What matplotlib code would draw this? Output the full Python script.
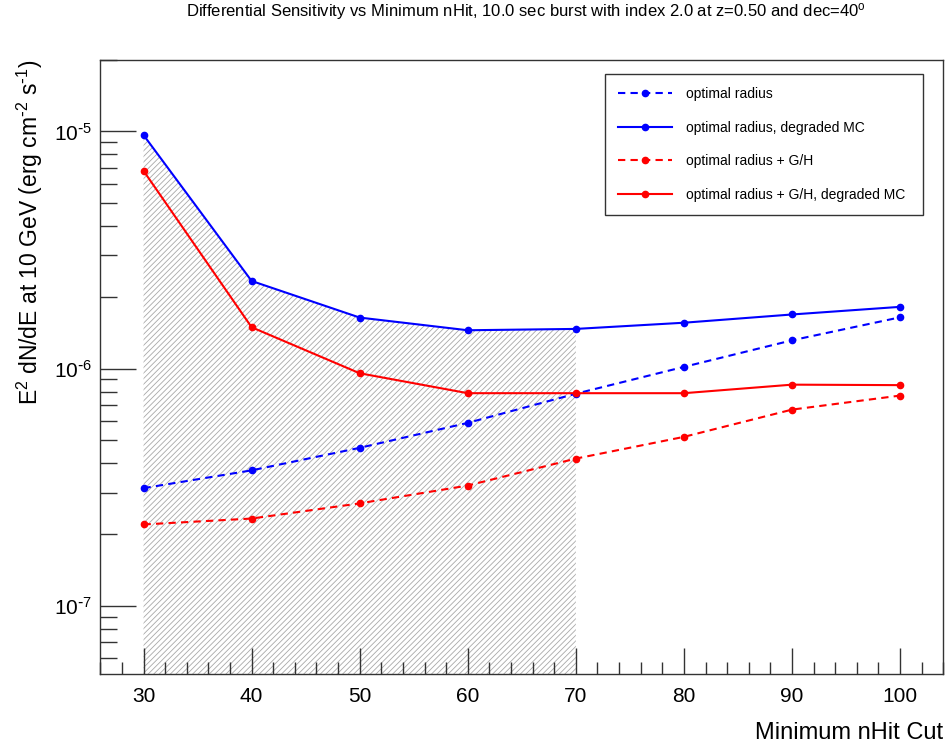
import matplotlib
matplotlib.use("Agg")
import matplotlib.pyplot as plt
from matplotlib.ticker import FixedLocator, FixedFormatter, MultipleLocator, NullFormatter
import numpy as np

plt.rcParams['font.family'] = ['Liberation Sans', 'DejaVu Sans']
plt.rcParams['mathtext.default'] = 'regular'
plt.rcParams['hatch.linewidth'] = 0.6

# ---- data ----
nhit = [30, 40, 50, 60, 70, 80, 90, 100]
opt_radius = [3.13e-7, 3.72e-7, 4.63e-7, 5.90e-7, 7.83e-7, 1.016e-6, 1.315e-6, 1.644e-6]
opt_radius_deg = [9.65e-6, 2.34e-6, 1.64e-6, 1.45e-6, 1.469e-6, 1.56e-6, 1.69e-6, 1.82e-6]
opt_radius_gh = [2.20e-7, 2.33e-7, 2.70e-7, 3.21e-7, 4.17e-7, 5.15e-7, 6.71e-7, 7.69e-7]
opt_radius_gh_deg = [6.82e-6, 1.493e-6, 9.55e-7, 7.87e-7, 7.87e-7, 7.87e-7, 8.55e-7, 8.51e-7]
hatch_range = [30, 70]

labels = ["optimal radius", "optimal radius, degraded MC",
          "optimal radius + G/H", "optimal radius + G/H, degraded MC"]
ytick_vals = [1e-7, 1e-6, 1e-5]
ytick_labels = [r'$10^{\text{-}7}$', r'$10^{\text{-}6}$', r'$10^{\text{-}5}$']
xticks = [30, 40, 50, 60, 70, 80, 90, 100]

W, H = 949, 748
fig = plt.figure(figsize=(W / 100, H / 100), dpi=100)
ax = fig.add_axes([100.3 / W, 1 - 674 / H, (943.3 - 100.3) / W, (674 - 60) / H])

# hatched region below degraded blue curve
x_arr = np.array(nhit)
mask = (x_arr >= hatch_range[0]) & (x_arr <= hatch_range[1])
ymin, ymax = 5.15e-8, 2.0e-5
ax.fill_between(x_arr[mask], ymin, np.array(opt_radius_deg)[mask],
                facecolor='none', edgecolor='#a8a8a8', hatch='//////', linewidth=0, zorder=1)

dash = (0, (3.5, 2.5))
ax.plot(nhit, opt_radius, color='#0000ff', ls=dash, lw=1.5, marker='o', ms=4.5, label=labels[0], zorder=3)
ax.plot(nhit, opt_radius_deg, color='#0000ff', ls='-', lw=1.5, marker='o', ms=4.5, label=labels[1], zorder=3)
ax.plot(nhit, opt_radius_gh, color='#ff0000', ls=dash, lw=1.5, marker='o', ms=4.5, label=labels[2], zorder=3)
ax.plot(nhit, opt_radius_gh_deg, color='#ff0000', ls='-', lw=1.5, marker='o', ms=4.5, label=labels[3], zorder=3)

ax.set_yscale('log')
ax.set_xlim(26.0, 104.0)
ax.set_ylim(ymin, ymax)

ax.xaxis.set_major_locator(FixedLocator(xticks))
ax.xaxis.set_minor_locator(MultipleLocator(2))
ax.yaxis.set_major_locator(FixedLocator(ytick_vals))
ax.yaxis.set_major_formatter(FixedFormatter(ytick_labels))
minor_y = [m * 10.0 ** e for e in range(-8, -4) for m in range(2, 10)]
ax.yaxis.set_minor_locator(FixedLocator(minor_y))
ax.yaxis.set_minor_formatter(NullFormatter())

ax.tick_params(axis='x', which='major', direction='in', length=19, width=1, labelsize=15, pad=9, color='#333333')
ax.tick_params(axis='x', which='minor', direction='in', length=9, width=1, color='#333333')
ax.tick_params(axis='y', which='major', direction='in', length=26, width=1, labelsize=15, pad=6, color='#333333')
ax.tick_params(axis='y', which='minor', direction='in', length=12.5, width=1, color='#333333')
for s in ax.spines.values():
    s.set_color('#333333')
    s.set_linewidth(1)

leg = ax.legend(loc='upper left', bbox_to_anchor=(0.5987, 0.7508, 0.3769, 0.2264), mode='expand',
                fontsize=10, frameon=True, fancybox=False, framealpha=1, edgecolor='#333333',
                borderaxespad=0, borderpad=0.95, labelspacing=1.4, handlelength=3.9, handletextpad=1.0)
leg.get_frame().set_linewidth(1)

fig.text(526 / W, 1 - 12 / H,
         r'Differential Sensitivity vs Minimum nHit, 10.0 sec burst with index 2.0 at z=0.50 and dec=40$^{o}$',
         ha='center', va='center', fontsize=12)
fig.text(30 / W, 1 - 60 / H, r'$E^{2}$ dN/dE at 10 GeV (erg cm$^{\text{-}2}$ s$^{\text{-}1}$)',
         rotation=90, ha='center', va='top', fontsize=16.5)
fig.text(943 / W, 1 - 733 / H, 'Minimum nHit Cut', ha='right', va='center', fontsize=17)

fig.savefig('out.png', dpi=100)
